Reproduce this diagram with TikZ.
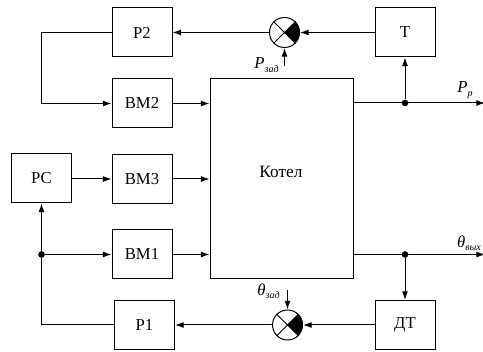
\documentclass[tikz,border=0pt]{standalone}
\usepackage{fontspec}
\setmainfont{Liberation Serif}
\usetikzlibrary{arrows.meta}
\tikzset{
  block/.style={draw,line width=0.75pt,minimum width=45pt,minimum height=36.75pt,inner sep=0pt,font=\fontsize{12.5}{14}\selectfont},
  summer/.style={draw,circle,line width=0.75pt,minimum size=22.5pt,inner sep=0pt},
  dot/.style={circle,fill=black,minimum size=5pt,inner sep=0pt},
  lab/.style={inner sep=0pt,font=\fontsize{12.5}{14}\itshape\selectfont},
  conn/.style={line width=0.75pt,-{Latex[length=6.5pt,width=4.5pt]}},
  wire/.style={line width=0.75pt}
}
\newcommand{\lowtext}[1]{\raisebox{-2.5pt}{\fontsize{7.5}{8}\itshape\selectfont #1}}
\begin{document}
\begin{tikzpicture}[x=0.75pt,y=0.75pt,yscale=-1]
\useasboundingbox (0,0) rectangle (483,352);

% Blocks
\node [block] (p2) at (142,32.5) {Р2};
\node [block] (vm2) at (142,103.5) {ВМ2};
\node [block] (rs) at (41.5,178.5) {РС};
\node [block] (vm3) at (142,179) {ВМ3};
\node [block] (vm1) at (142,254.5) {ВМ1};
\node [block] (p1) at (144.5,325) {Р1};
\node [block,minimum width=107.25pt,minimum height=150pt] (boiler) at (281.5,179) {};
\node [inner sep=0pt,font=\fontsize{13}{14}\selectfont] (boilertext) at (281,172) {Котел};
\node [block] (t) at (405,32.5) {Т};
\node [block] (dt) at (405,325) {ДТ};

% Summers
\node [summer] (s2) at (284.5,32.5) {};
\node [summer] (s1) at (287.5,325) {};
\fill (s2.center) -- (s2.45) arc [start angle=-45,end angle=45,radius=11.25pt] -- cycle;
\fill (s1.center) -- (s1.45) arc [start angle=-45,end angle=45,radius=11.25pt] -- cycle;
\draw [wire] (s2.45) -- (s2.225) (s2.135) -- (s2.315);
\draw [wire] (s1.45) -- (s1.225) (s1.135) -- (s1.315);

% Junctions and free ends
\node [dot] (jtop) at (405,103) {};
\node [dot] (jbot) at (405,254.5) {};
\node [dot] (jleft) at (41.5,254.5) {};
\coordinate (pend) at (485,103);
\coordinate (thend) at (485,254.5);
\coordinate (c2) at (41.5,32.5);
\coordinate (c3) at (41.5,103.5);
\coordinate (c4) at (41.5,325);
\coordinate (pin) at (284.5,66);
\coordinate (thin) at (287.5,290);

% Upper loop
\draw [conn] (t) -- (s2);
\draw [conn] (s2) -- (p2);
\draw [conn] (p2.west) -- (c2) -- (c3) -- (vm2.west);
\draw [conn] (pin) -- (s2);
\draw [conn] (jtop) -- (t);
\draw [conn] (boiler.east |- jtop) -- (pend);

% Middle
\draw [conn] (vm2) -- (boiler.west |- vm2);
\draw [conn] (rs.east |- vm3) -- (vm3);
\draw [conn] (vm3) -- (boiler);
\draw [conn] (vm1) -- (boiler.west |- vm1);
\draw [conn] (jleft) -- (vm1);
\draw [conn] (jleft) -- (rs);

% Lower loop
\draw [conn] (boiler.east |- jbot) -- (thend);
\draw [conn] (jbot) -- (dt);
\draw [conn] (dt) -- (s1);
\draw [conn] (s1) -- (p1);
\draw [conn] (thin) -- (s1);
\draw [wire] (p1.west) -- (c4) -- (jleft);

% Labels
\node [lab] (lp) at (266.5,65) {P\lowtext{зад}};
\node [lab] (lpp) at (465,90) {P\lowtext{р}};
\node [lab] (lth) at (469,243) {θ\lowtext{вых}};
\node [lab] (lthz) at (268.5,291) {θ\lowtext{зад}};
\end{tikzpicture}
\end{document}
